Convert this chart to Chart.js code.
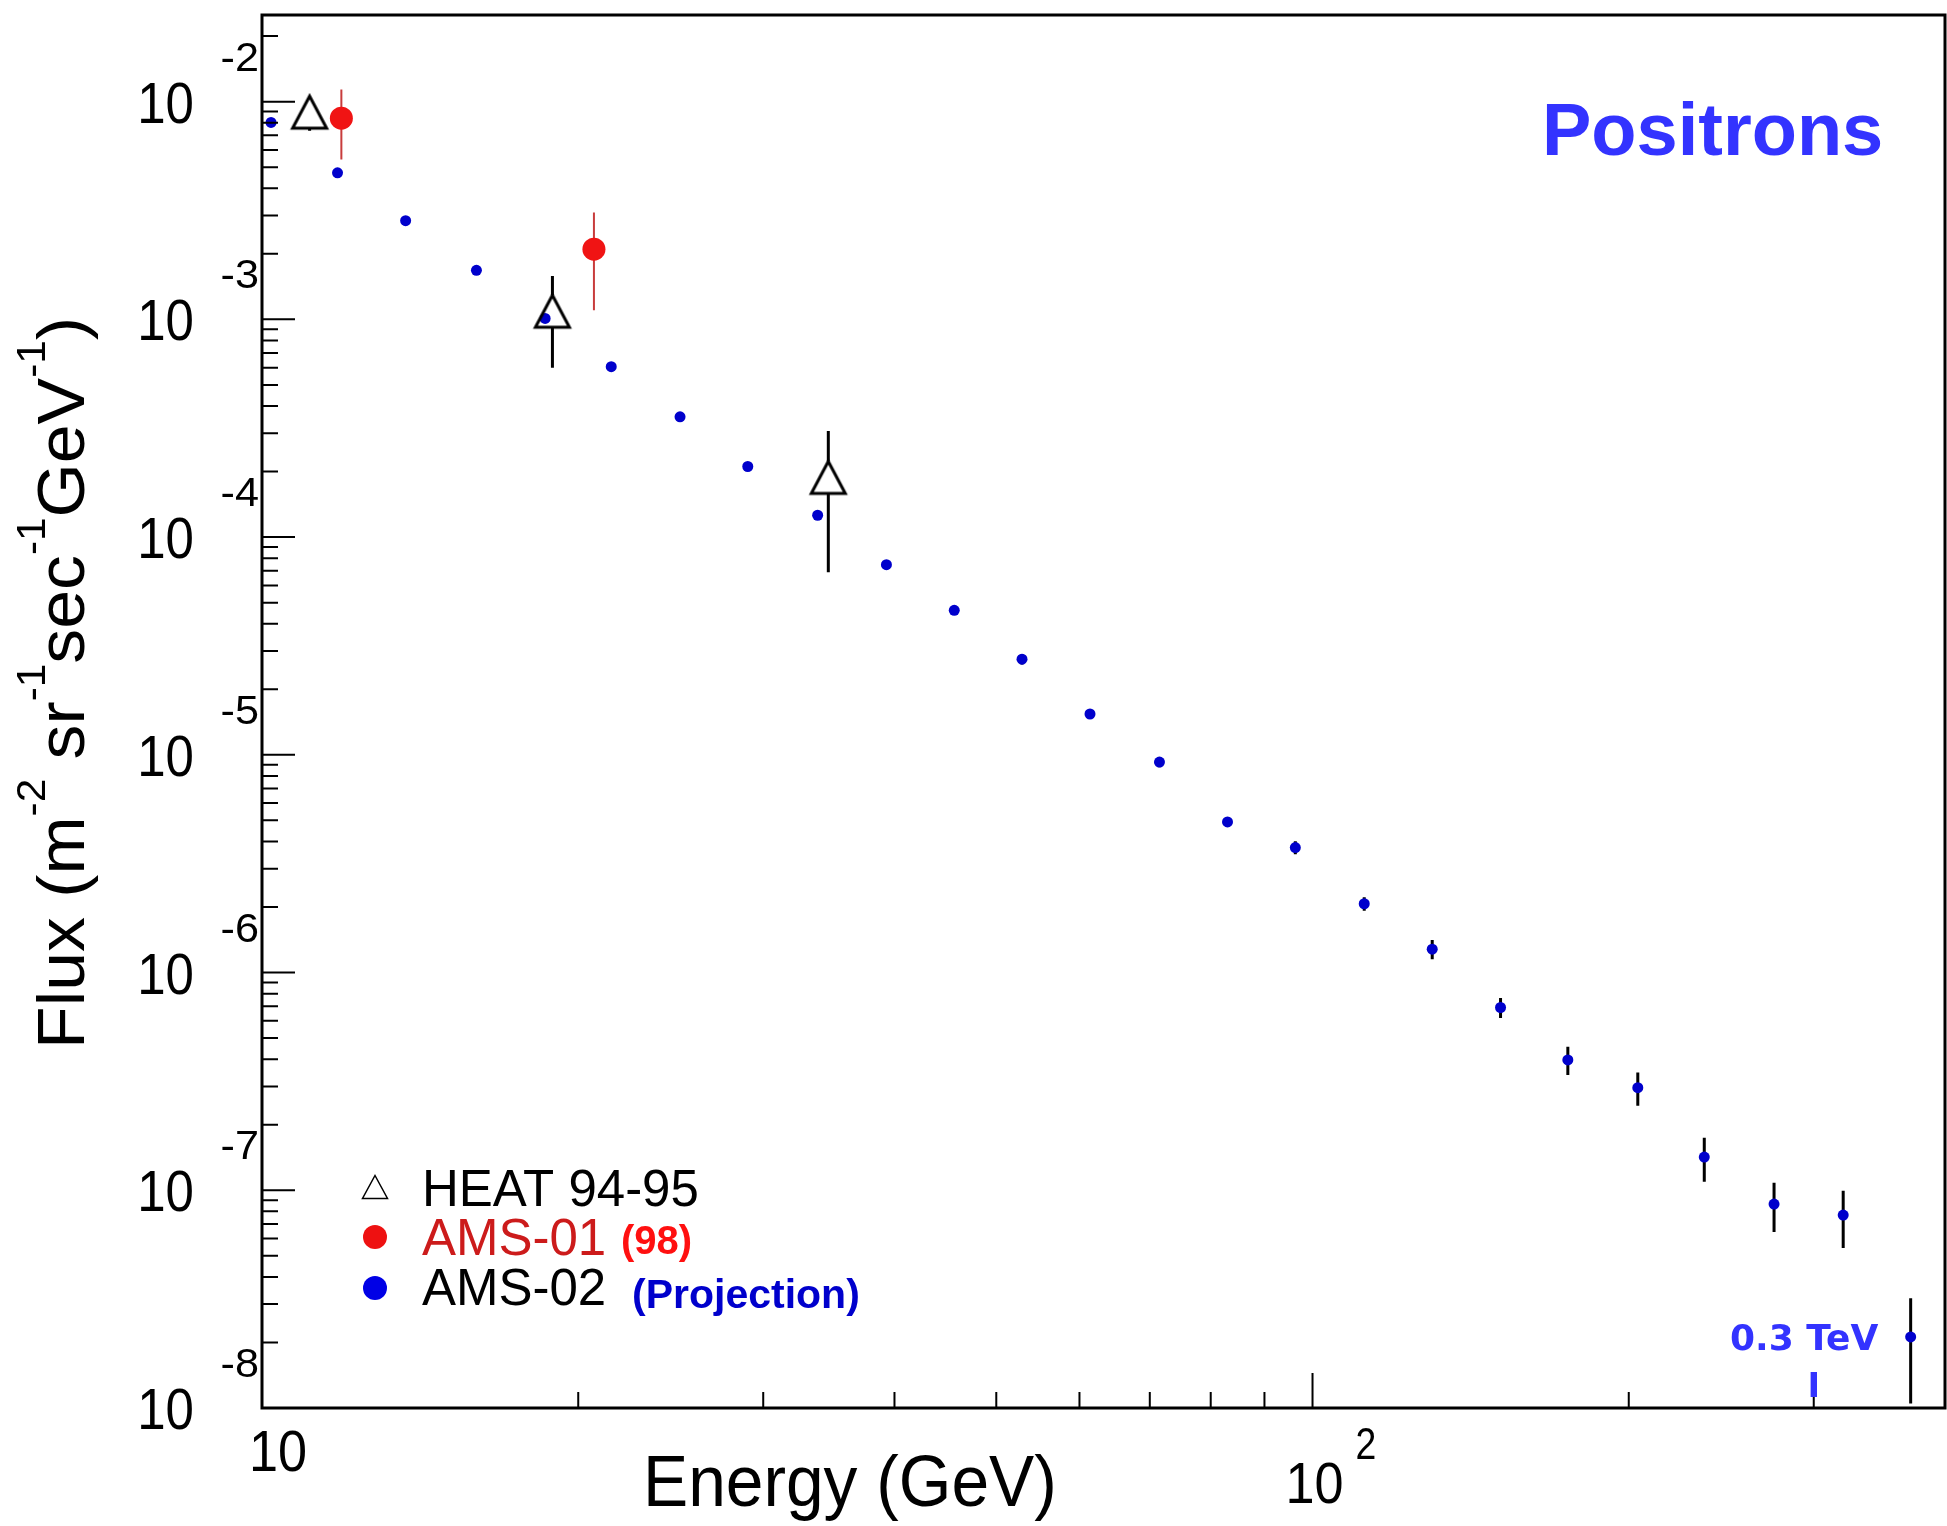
<!DOCTYPE html>
<html>
<head>
<meta charset="utf-8">
<title>Positron flux</title>
<script src="https://cdn.jsdelivr.net/npm/chart.js@4.4.1/dist/chart.umd.min.js"></script>
<style>
  html, body { margin: 0; padding: 0; background: #fff; }
  canvas { display: block; }
</style>
</head>
<body>
<canvas id="chart" width="1947" height="1526"></canvas>
<script>
// HEAT 94-95
const heatEnergy = [11.1, 18.9, 34.6];
const heatFlux = [8.95e-3, 1.09e-3, 1.88e-4];
const heatErr = [1.6e-3, 4.9e-4, 1.19e-4];

// AMS-01 (98)
const ams01Energy = [11.9, 20.7];
const ams01Flux = [8.4e-3, 2.1e-3];
const ams01Err = [2.97e-3, 1.0e-3];

// AMS-02 projection
const ams02Energy = [10.2, 11.8, 13.7, 16.0, 18.6, 21.5, 25.0, 29.0, 33.8, 39.3, 45.6, 52.9, 61.4,
  71.5, 83.0, 96.3, 112, 130, 151, 175, 204, 236, 275, 320, 371];
const ams02Flux = [8.03e-3, 4.71e-3, 2.84e-3, 1.68e-3, 1.01e-3, 6.06e-4, 3.57e-4, 2.11e-4, 1.26e-4,
  7.47e-5, 4.61e-5, 2.75e-5, 1.54e-5, 9.26e-6, 4.92e-6, 3.75e-6, 2.07e-6, 1.28e-6, 6.91e-7,
  3.97e-7, 2.96e-7, 1.42e-7, 8.64e-8, 7.69e-8, 2.12e-8];
const ams02Err = [0, 0, 0, 0, 0, 0, 0, 0, 0, 0, 0, 1.5e-6, 8e-7, 5e-7, 2e-7, 2.6e-7, 1.5e-7, 1.3e-7,
  7.3e-8, 5.9e-8, 5.15e-8, 3.25e-8, 2.2e-8, 2.26e-8, 1.07e-8];

// axes
const xRange = [10, 400];
const yRange = [1e-8, 0.025];
const xDecades = [1, 2];
const yDecades = [-8, -7, -6, -5, -4, -3, -2];
const legendLabels = ["HEAT 94-95", "AMS-01", "AMS-02"];
const legendNotes = ["", "(98)", "(Projection)"];

const SANS = '"Liberation Sans", Arial, Helvetica, sans-serif';

// ROOT style open triangle (marker 26), centred on its bounding box
function openTriangle(w, h, lw) {
  const c = document.createElement("canvas");
  const pad = Math.ceil(lw) + 1;
  c.width = w + 2 * pad;
  c.height = h + 2 * pad;
  const g = c.getContext("2d");
  g.strokeStyle = "#000";
  g.lineWidth = lw;
  g.beginPath();
  g.moveTo(pad + w / 2, pad);
  g.lineTo(pad + w, pad + h);
  g.lineTo(pad, pad + h);
  g.closePath();
  g.stroke();
  return c;
}

const triH = 32;
const triMarker = openTriangle(34, triH, 3);

function toPoints(xs, ys) {
  return xs.map((x, i) => ({ x: x, y: ys[i] }));
}

function drawText(ctx, text, x, y, font, color, align, sx) {
  ctx.save();
  ctx.font = font;
  ctx.fillStyle = color;
  ctx.textAlign = align || "left";
  ctx.textBaseline = "alphabetic";
  ctx.translate(x, y);
  ctx.scale(sx || 1, 1);
  ctx.fillText(text, 0, 0);
  ctx.restore();
}

// vertical error bars, drawn under the markers
const errorBars = {
  id: "errorBars",
  beforeDatasetsDraw(chart) {
    const ctx = chart.ctx;
    const ys = chart.scales.y;
    chart.data.datasets.forEach((ds, i) => {
      if (!ds.errors) return;
      const meta = chart.getDatasetMeta(i);
      meta.data.forEach((pt, j) => {
        const e = ds.errors[j];
        if (!e) return;
        const v = ds.data[j].y;
        const top = ys.getPixelForValue(v + e);
        const bot = ys.getPixelForValue(v - e);
        const gap = ds.errGap || 0;
        ctx.save();
        ctx.strokeStyle = ds.errColor;
        ctx.lineWidth = ds.errWidth;
        ctx.beginPath();
        if (top < pt.y - gap) { ctx.moveTo(pt.x, top); ctx.lineTo(pt.x, pt.y - gap); }
        if (bot > pt.y + gap) { ctx.moveTo(pt.x, pt.y + gap); ctx.lineTo(pt.x, bot); }
        ctx.stroke();
        ctx.restore();
      });
    });
  }
};

// frame, inward ticks, power-of-ten labels, titles and legend
const rootAxes = {
  id: "rootAxes",
  afterDraw(chart) {
    const ctx = chart.ctx;
    const a = chart.chartArea;
    const xs = chart.scales.x;
    const ys = chart.scales.y;

    ctx.save();
    ctx.strokeStyle = "#000";
    ctx.lineWidth = 3;
    ctx.strokeRect(a.left, a.top, a.right - a.left, a.bottom - a.top);

    // ticks
    ctx.lineWidth = 2;
    ctx.beginPath();
    xDecades.forEach(d => {
      for (let m = 1; m <= 9; m++) {
        const v = m * Math.pow(10, d);
        if (v < xRange[0] || v > xRange[1]) continue;
        const px = xs.getPixelForValue(v);
        const len = m === 1 ? 35 : 16;
        ctx.moveTo(px, a.bottom);
        ctx.lineTo(px, a.bottom - len);
      }
    });
    yDecades.forEach(d => {
      for (let m = 1; m <= 9; m++) {
        const v = m * Math.pow(10, d);
        if (v < yRange[0] || v > yRange[1]) continue;
        const py = ys.getPixelForValue(v);
        const len = m === 1 ? 33 : 16;
        ctx.moveTo(a.left, py);
        ctx.lineTo(a.left + len, py);
      }
    });
    ctx.stroke();
    ctx.restore();

    // y labels: 10 with exponent above
    yDecades.forEach(d => {
      const py = ys.getPixelForValue(Math.pow(10, d));
      drawText(ctx, "10", 194, py + 21, "58px " + SANS, "#000", "right", 0.88);
      drawText(ctx, String(d), 259, py - 31, "40px " + SANS, "#000", "right", 1.08);
    });

    // x labels
    const x10 = xs.getPixelForValue(10);
    drawText(ctx, "10", x10 + 16, 1471, "58px " + SANS, "#000", "center", 0.9);
    const x100 = xs.getPixelForValue(100);
    drawText(ctx, "10", x100 + 2, 1503, "58px " + SANS, "#000", "center", 0.9);
    drawText(ctx, "2", x100 + 43, 1459, "44px " + SANS, "#000", "left", 0.85);

    // axis titles
    drawText(ctx, "Energy (GeV)", 643, 1506, "72px " + SANS, "#000", "left", 0.94);

    const mainFont = "66px " + SANS;
    const supFont = "40px " + SANS;
    const parts = [
      ["Flux (m", 0], ["-2", 1], [" sr", 0], ["-1", 1], ["sec", 0],
      ["-1", 1], ["GeV", 0], ["-1", 1], [")", 0]
    ];
    ctx.save();
    let total = 0;
    parts.forEach(p => { ctx.font = p[1] ? supFont : mainFont; total += ctx.measureText(p[0]).width; });
    const sx = 732 / total;
    ctx.translate(84, 1049);
    ctx.rotate(-Math.PI / 2);
    ctx.scale(sx, 1);
    ctx.fillStyle = "#000";
    let cx = 0;
    parts.forEach(p => {
      ctx.font = p[1] ? supFont : mainFont;
      ctx.fillText(p[0], cx, p[1] ? -39 : 0);
      cx += ctx.measureText(p[0]).width;
    });
    ctx.restore();

    // in-frame annotations
    drawText(ctx, "Positrons", 1542, 155, "bold 74px " + SANS, "#3333ff", "left", 1);
    drawText(ctx, "0.3 TeV", 1730, 1350, 'bold 36px "DejaVu Sans", sans-serif', "#3333ff", "left", 1);
    drawText(ctx, "I", xs.getPixelForValue(300), 1397, 'bold 34px "DejaVu Sans", sans-serif', "#3333ff", "center", 1);

    // legend
    const lx = 375;
    const rows = [1187, 1237, 1288];
    ctx.save();
    ctx.strokeStyle = "#000";
    ctx.lineWidth = 1.5;
    ctx.beginPath();
    ctx.moveTo(lx, rows[0] - 11.5);
    ctx.lineTo(lx + 12.5, rows[0] + 11.5);
    ctx.lineTo(lx - 12.5, rows[0] + 11.5);
    ctx.closePath();
    ctx.stroke();
    ctx.fillStyle = "#ee1111";
    ctx.beginPath();
    ctx.arc(lx, rows[1], 12, 0, Math.PI * 2);
    ctx.fill();
    ctx.fillStyle = "#0000e6";
    ctx.beginPath();
    ctx.arc(lx, rows[2], 12, 0, Math.PI * 2);
    ctx.fill();
    ctx.restore();

    drawText(ctx, legendLabels[0], 422, 1206, "51px " + SANS, "#000", "left", 1);
    drawText(ctx, legendLabels[1], 422, 1255, "51px " + SANS, "#cc1b1b", "left", 1);
    drawText(ctx, legendLabels[2], 422, 1305, "51px " + SANS, "#000", "left", 1);
    drawText(ctx, legendNotes[1], 621, 1254, "bold 40px " + SANS, "#ff1010", "left", 1);
    drawText(ctx, legendNotes[2], 632, 1308, "bold 41px " + SANS, "#0000cc", "left", 1);
  }
};

const ctx = document.getElementById("chart").getContext("2d");

new Chart(ctx, {
  type: "scatter",
  data: {
    datasets: [
      {
        label: legendLabels[0],
        data: toPoints(heatEnergy, heatFlux),
        errors: heatErr,
        errColor: "#000",
        errWidth: 3,
        errGap: triH / 2,
        pointStyle: triMarker,
        pointRadius: 17,
        clip: false
      },
      {
        label: legendLabels[1],
        data: toPoints(ams01Energy, ams01Flux),
        errors: ams01Err,
        errColor: "#c83c3c",
        errWidth: 2,
        pointStyle: "circle",
        pointRadius: 11.5,
        pointBorderWidth: 0,
        backgroundColor: "#f01414",
        borderColor: "#f01414",
        clip: false
      },
      {
        label: legendLabels[2],
        data: toPoints(ams02Energy, ams02Flux),
        errors: ams02Err,
        errColor: "#000",
        errWidth: 3,
        pointStyle: "circle",
        pointRadius: 5.5,
        pointBorderWidth: 0,
        backgroundColor: "#0000cc",
        borderColor: "#0000cc",
        clip: false
      }
    ]
  },
  options: {
    responsive: false,
    animation: false,
    events: [],
    layout: { autoPadding: false, padding: { left: 262, top: 15, right: 2, bottom: 118 } },
    scales: {
      x: { type: "logarithmic", min: xRange[0], max: xRange[1], display: false },
      y: { type: "logarithmic", min: yRange[0], max: yRange[1], display: false }
    },
    plugins: {
      legend: { display: false },
      tooltip: { enabled: false }
    }
  },
  plugins: [errorBars, rootAxes]
});
</script>
</body>
</html>
